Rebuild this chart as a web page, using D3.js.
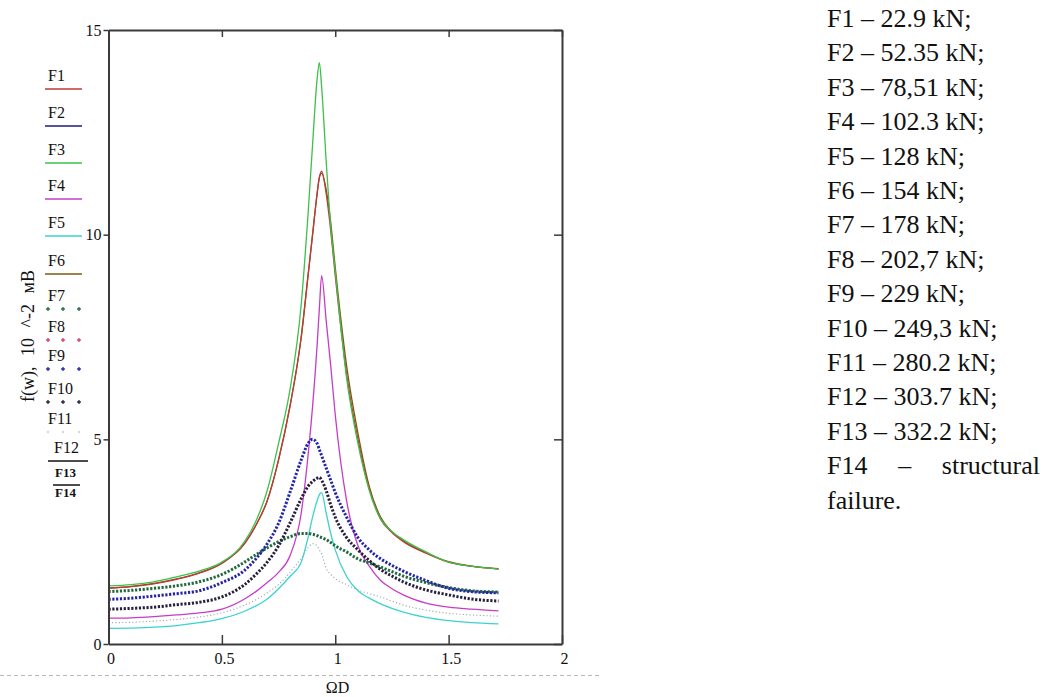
<!DOCTYPE html>
<html>
<head>
<meta charset="utf-8">
<script src="https://cdn.jsdelivr.net/npm/d3@7"></script>
<style>
  html, body { margin: 0; padding: 0; background: #fff; }
  svg { display: block; }
  text { font-family: "Liberation Serif", "Times New Roman", serif; fill: #111; }
</style>
</head>
<body>
<svg id="chart" width="1045" height="697"></svg>
<script>
// ---- data ----
const omegaD = [0, 0.1, 0.2, 0.3, 0.4, 0.5, 0.6, 0.65, 0.7, 0.75, 0.8, 0.85, 0.88, 0.9, 0.92, 0.93, 0.94, 0.96, 0.98, 1.0, 1.05, 1.1, 1.15, 1.2, 1.25, 1.3, 1.4, 1.5, 1.6, 1.72];
const F1  = [1.36,1.40,1.47,1.58,1.73,1.97,2.45,2.9,3.5,4.5,5.8,7.5,9.0,10.0,11.0,11.4,11.55,11.0,10.1,9.0,6.6,5.0,3.8,3.05,2.72,2.5,2.22,2.0,1.9,1.83];
const F3  = [1.42,1.45,1.52,1.64,1.78,2.0,2.5,3.0,3.75,4.9,6.2,8.3,10.5,12.2,13.8,14.2,13.6,11.8,10.2,9.1,6.5,4.9,3.75,3.05,2.75,2.55,2.25,2.0,1.9,1.83];
const F4  = [0.63,0.64,0.67,0.71,0.76,0.85,1.1,1.28,1.5,1.75,2.15,3.2,4.6,5.8,7.3,8.2,9.0,7.9,6.8,5.6,3.5,2.4,1.9,1.55,1.35,1.2,1.0,0.9,0.85,0.81];
const F5  = [0.38,0.39,0.41,0.45,0.52,0.62,0.8,0.93,1.1,1.35,1.65,2.0,2.6,3.1,3.5,3.65,3.7,3.2,2.7,2.3,1.65,1.3,1.12,0.98,0.87,0.78,0.65,0.57,0.52,0.49];
const F6  = [1.37,1.41,1.48,1.59,1.74,1.98,2.45,2.9,3.5,4.5,5.8,7.5,9.0,10.0,11.0,11.4,11.5,11.1,10.3,9.2,6.8,5.15,3.85,3.1,2.74,2.52,2.23,2.01,1.9,1.84];
const F7  = [1.28,1.31,1.36,1.42,1.52,1.7,2.0,2.18,2.35,2.5,2.62,2.7,2.7,2.68,2.65,2.62,2.6,2.55,2.48,2.4,2.25,2.08,1.98,1.88,1.77,1.66,1.5,1.38,1.3,1.27];
const F9  = [1.09,1.12,1.17,1.23,1.3,1.5,1.8,2.08,2.45,2.95,3.7,4.5,4.9,5.0,4.9,4.75,4.6,4.3,4.0,3.7,3.1,2.6,2.3,2.08,1.92,1.78,1.55,1.36,1.28,1.25];
const F10 = [0.85,0.87,0.9,0.96,1.02,1.15,1.45,1.7,2.0,2.4,2.95,3.55,3.85,3.97,4.05,4.07,4.0,3.75,3.4,3.1,2.6,2.3,2.04,1.82,1.66,1.52,1.32,1.2,1.1,1.05];
const F11 = [0.52,0.53,0.56,0.6,0.66,0.76,0.95,1.08,1.25,1.45,1.75,2.1,2.35,2.45,2.4,2.3,2.2,1.85,1.7,1.6,1.45,1.32,1.23,1.15,1.05,0.95,0.83,0.75,0.71,0.68];

const legendNames = ["F1","F2","F3","F4","F5","F6","F7","F8","F9","F10","F11","F12","F13","F14"];
const xTickValues = [0, 0.5, 1, 1.5, 2];
const xTickLabels = ["0", "0.5", "1", "1.5", "2"];
const yTickValues = [0, 5, 10, 15];
const yTickLabels = ["0", "5", "10", "15"];
const loadLines = ["F1 \u2013 22.9 kN;", "F2 \u2013 52.35 kN;", "F3 \u2013 78,51 kN;", "F4 \u2013 102.3 kN;",
  "F5 \u2013 128 kN;", "F6 \u2013 154 kN;", "F7 \u2013 178 kN;", "F8 \u2013 202,7 kN;", "F9 \u2013 229 kN;",
  "F10 \u2013 249,3 kN;", "F11 \u2013 280.2 kN;", "F12 \u2013 303.7 kN;", "F13 \u2013 332.2 kN;",
  "F14 \u2013 structural", "failure."];
const yLabel = "f(w), 10 ^-2 \u043C\u0412";
const xLabel = "\u03A9D";

// ---- styles ----
const styles = {
  F1:  {color: "#c03838", kind: "line"},
  F2:  {color: "#1a1a80", kind: "line"},
  F3:  {color: "#3cc04a", kind: "line"},
  F4:  {color: "#c63cc6", kind: "line"},
  F5:  {color: "#3cd2d0", kind: "line"},
  F6:  {color: "#7a5a12", kind: "line"},
  F7:  {color: "#1f6a3c", kind: "plus"},
  F8:  {color: "#d0406a", kind: "plus"},
  F9:  {color: "#2424a8", kind: "plus"},
  F10: {color: "#26203a", kind: "plus"},
  F11: {color: "#9aa8b0", kind: "dot"},
  F12: {color: "#111", kind: "line"},
  F13: {color: "#111", kind: "line"},
  F14: {color: "#111", kind: "none"}
};

const drawn = [
  {name: "F6", values: F6},
  {name: "F1", values: F1},
  {name: "F3", values: F3},
  {name: "F4", values: F4},
  {name: "F5", values: F5},
  {name: "F11", values: F11},
  {name: "F7", values: F7},
  {name: "F10", values: F10},
  {name: "F9", values: F9}
];

const svg = d3.select("#chart");
const x = d3.scaleLinear().domain([0, 2]).range([108.5, 562]);
const y = d3.scaleLinear().domain([0, 15]).range([644, 30]);

// clip
svg.append("defs").append("clipPath").attr("id", "plotclip")
  .append("rect").attr("x", x(0)).attr("y", y(15)).attr("width", x(2) - x(0)).attr("height", y(0) - y(15));

// dashed separator
svg.append("line").attr("x1", 0).attr("x2", 600).attr("y1", 675.5).attr("y2", 675.5)
  .attr("stroke", "#b8b8b8").attr("stroke-width", 1).attr("stroke-dasharray", "4,3");

// curves
const line = d3.line().x((d, i) => x(omegaD[i])).y(d => y(d)).curve(d3.curveMonotoneX);
const plot = svg.append("g").attr("clip-path", "url(#plotclip)");
drawn.forEach(s => {
  const st = styles[s.name];
  const p = plot.append("path").datum(s.values).attr("d", line).attr("fill", "none")
    .attr("stroke", st.color).attr("stroke-linejoin", "round");
  if (st.kind === "line") p.attr("stroke-width", 1.3);
  else if (st.kind === "plus") p.attr("stroke-width", 3).attr("stroke-dasharray", "2.2,1.6");
  else if (st.kind === "dot") p.attr("stroke-width", 1.1).attr("stroke-dasharray", "1.2,2.2");
});

// axes
const frameColor = "#3a3a3a";
const fmtX = (d) => xTickLabels[xTickValues.indexOf(d)];
const fmtY = (d) => yTickLabels[yTickValues.indexOf(d)];

const gB = svg.append("g").attr("transform", `translate(0,${y(0)})`)
  .call(d3.axisBottom(x).tickValues(xTickValues).tickSizeInner(-9).tickSizeOuter(0).tickPadding(9).tickFormat(fmtX));
const gT = svg.append("g").attr("transform", `translate(0,${y(15)})`)
  .call(d3.axisTop(x).tickValues(xTickValues).tickSizeInner(-7).tickSizeOuter(0).tickFormat(""));
const gL = svg.append("g").attr("transform", `translate(${x(0)},0)`)
  .call(d3.axisLeft(y).tickValues(yTickValues).tickSizeInner(5).tickSizeOuter(0).tickPadding(2).tickFormat(fmtY));
const gR = svg.append("g").attr("transform", `translate(${x(2)},0)`)
  .call(d3.axisRight(y).tickValues(yTickValues).tickSizeInner(-8).tickSizeOuter(0).tickFormat(""));

[gB, gT, gL, gR].forEach(g => {
  g.select(".domain").attr("stroke", frameColor).attr("stroke-width", 2);
  g.selectAll(".tick line").attr("stroke", frameColor).attr("stroke-width", 1.5);
  g.selectAll(".tick text").attr("font-size", 16).attr("fill", "#222");
});
gB.selectAll(".tick text").attr("dx", 2);

// axis titles
svg.append("text").attr("x", 337.5).attr("y", 693).attr("text-anchor", "middle")
  .attr("font-size", 16).text(xLabel);
svg.append("text").attr("transform", "translate(34,336) rotate(-90)").attr("text-anchor", "middle")
  .attr("font-size", 18).attr("word-spacing", 6).text(yLabel);

// legend
const legendY = [89, 126, 163, 199, 236, 274, 309, 340, 369, 402, 432, 461, 485, 0];
const lg = svg.append("g");
legendNames.forEach((n, i) => {
  const st = styles[n];
  const ly = legendY[i];
  if (n === "F12") {
    lg.append("text").attr("x", 54).attr("y", ly - 8).attr("font-size", 16).text(n);
    lg.append("line").attr("x1", 48).attr("x2", 88).attr("y1", ly).attr("y2", ly).attr("stroke", "#111").attr("stroke-width", 1.5);
    return;
  }
  if (n === "F13") {
    lg.append("text").attr("x", 55).attr("y", ly - 8).attr("font-size", 13).attr("font-weight", "bold").text(n);
    lg.append("line").attr("x1", 53).attr("x2", 80).attr("y1", ly).attr("y2", ly).attr("stroke", "#111").attr("stroke-width", 1.5);
    return;
  }
  if (n === "F14") {
    lg.append("text").attr("x", 55).attr("y", 497).attr("font-size", 13).attr("font-weight", "bold").text(n);
    return;
  }
  lg.append("text").attr("x", 48).attr("y", ly - 8).attr("font-size", 16).text(n);
  if (st.kind === "line") {
    lg.append("line").attr("x1", 45).attr("x2", 82).attr("y1", ly).attr("y2", ly)
      .attr("stroke", st.color).attr("stroke-width", 1.5);
  } else {
    [48, 63, 79].forEach(px => {
      lg.append("path").attr("transform", `translate(${px},${ly})`)
        .attr("d", d3.symbol(d3.symbolCross, st.kind === "dot" ? 3 : 8)())
        .attr("fill", st.kind === "dot" ? "#c8c8c8" : st.color);
    });
  }
});

// right-hand text block
const tg = svg.append("g");
loadLines.forEach((t, i) => {
  const el = tg.append("text").attr("x", 827).attr("y", 27 + i * 34.4)
    .attr("font-size", 26).attr("fill", "#000").text(t);
  if (t.indexOf("structural") >= 0) {
    const natural = el.node().getComputedTextLength();
    el.attr("word-spacing", Math.max(0, (213 - natural) / 2));
  }
});
</script>
</body>
</html>
